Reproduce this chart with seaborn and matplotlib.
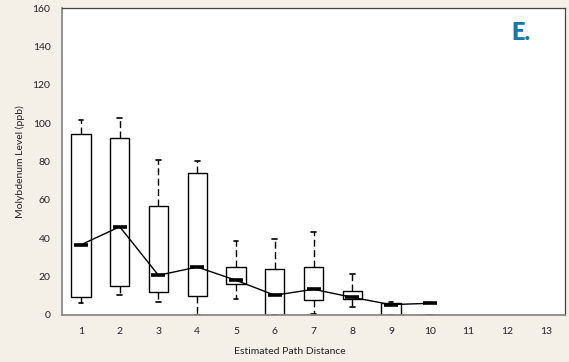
import numpy as np
import pandas as pd
import matplotlib
matplotlib.use("Agg")
import matplotlib.pyplot as plt
import seaborn as sns

# ---- data ----
categories = [str(i) for i in range(1, 14)]
box_cats = [str(i) for i in range(1, 11)]
whisker_low = [6.2, 10.6, 6.6, 0.0, 8.2, 0.0, 0.7, 4.2, 0.0, 0.0]
q1 = [9.2, 15.1, 12.2, 10.1, 16.0, 0.0, 8.0, 8.2, 0.0, 0.0]
q3 = [94.3, 92.2, 57.0, 74.1, 25.2, 24.1, 24.8, 12.3, 6.1, 0.0]
whisker_high = [101.6, 102.6, 80.7, 80.4, 38.7, 39.4, 43.0, 21.2, 6.9, 0.0]
medians = [36.6, 46.0, 20.7, 25.0, 18.1, 10.3, 13.4, 9.2, 5.4, 6.1]
y_ticks = [0, 20, 40, 60, 80, 100, 120, 140, 160]

BG = "#f4f0e8"
BLUE = "#1278b0"

sns.set_style("white")
plt.rcParams["font.family"] = ["Lato", "DejaVu Sans"]

# five-number summaries as long-form data (min, q1, mid, q3, max)
rows = []
for c, lo, a, b, hi in zip(box_cats, whisker_low, q1, q3, whisker_high):
    for v in (lo, a, (a + b) / 2.0, b, hi):
        rows.append({"distance": c, "value": v})
df = pd.DataFrame(rows)

fig = plt.figure(figsize=(5.69, 3.62), dpi=100, facecolor=BG)
ax = fig.add_axes([61.6 / 569, 1 - 315 / 362, 503.8 / 569, 307 / 362])
ax.set_facecolor("white")

sns.boxplot(
    data=df, x="distance", y="value", order=categories, ax=ax,
    width=0.5, whis=(0, 100), showfliers=False, color="white",
    saturation=1, linecolor="black", linewidth=1.0,
    whiskerprops={"linestyle": (0, (5, 2.5)), "color": "black", "linewidth": 1.0},
    capprops={"color": "black", "linewidth": 1.2, "linestyle": "-"},
    medianprops={"visible": False},
    capwidths=0.12,
)

sns.pointplot(
    x=box_cats, y=medians, order=categories, ax=ax, color="black",
    errorbar=None, marker="_", markersize=9.5, markeredgewidth=2.6,
    linewidth=1.0,
)

ax.set_xlim(-0.5, len(categories) - 0.5)
ax.set_ylim(0, 160)
ax.set_yticks(y_ticks)
ax.set_xticks(range(len(categories)))
ax.set_xticklabels(categories)
ax.set_xticks(np.arange(-0.5, len(categories), 1.0), minor=True)

ax.tick_params(axis="x", which="major", length=0, pad=9, labelsize=7.5, colors="#222222")
ax.tick_params(axis="x", which="minor", length=3, width=0.8, color="#999999", direction="out")
ax.tick_params(axis="y", which="major", length=3, width=0.8, color="#999999",
               direction="out", pad=5, labelsize=7.5, labelcolor="#222222")

for side in ("left", "bottom"):
    ax.spines[side].set_color("#8a8a8a")
    ax.spines[side].set_linewidth(1.3)
for side in ("top", "right"):
    ax.spines[side].set_color("#444444")
    ax.spines[side].set_linewidth(0.9)
    ax.spines[side].set_visible(True)

ax.set_xlabel("")
ax.set_ylabel("Molybdenum Level (ppb)", fontsize=7.5, color="#222222")
ax.yaxis.set_label_coords((25 - 61.6) / 503.8, 0.5)

fig.text(290 / 569, 1 - 352 / 362, "Estimated Path Distance", ha="center",
         va="center", fontsize=7.5, color="#222222")

fig.text(521 / 569, 1 - 33 / 362, "E.", fontsize=17, fontweight="heavy",
         color=BLUE, ha="center", va="center")

fig.savefig("out.png", dpi=100, facecolor=BG)
